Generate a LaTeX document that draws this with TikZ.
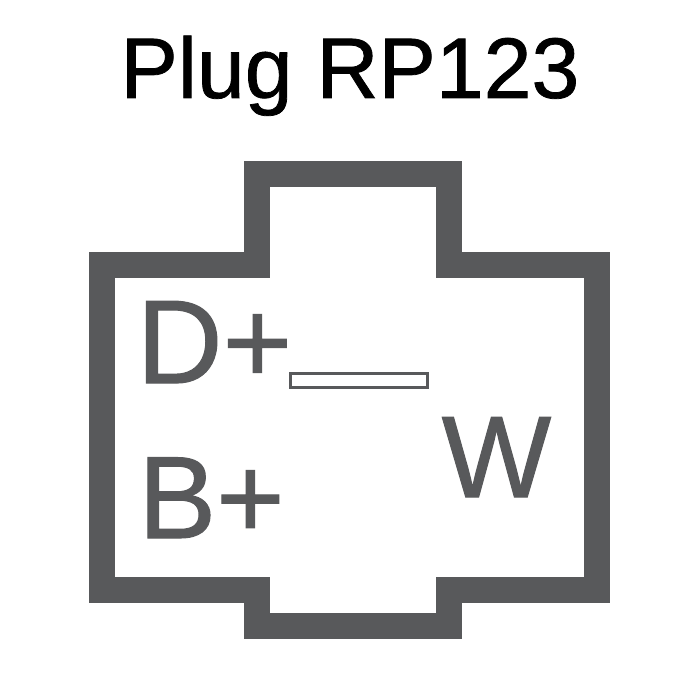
\documentclass[tikz,border=0pt]{standalone}
\usepackage{fontspec}
\setmainfont[FakeBold=0.9]{Liberation Sans}
\definecolor{plug}{HTML}{58595B}
\tikzset{lbl/.style={inner sep=0pt,text=plug}}
\begin{document}
\begin{tikzpicture}[x=1pt,y=-1pt]
\useasboundingbox (0,0) rectangle (700,700);
\node[inner sep=0pt,text=black,font=\fontsize{86pt}{86pt}\selectfont,anchor=base] (title) at (350,98) {Plug RP123};
\draw[plug,line width=26pt,miter limit=10] (102,265) -- (257,265) -- (257,174) -- (449,174) -- (449,265) -- (597,265) -- (597,590) -- (449,590) -- (449,626) -- (257,626) -- (257,590) -- (102,590) -- cycle;
\node[lbl,font=\fontsize{119pt}{119pt}\selectfont,anchor=base west] (d) at (136.5,383) {D+};
\node[lbl,font=\fontsize{117pt}{117pt}\selectfont,anchor=base west] (b) at (138,538) {B+};
\node[lbl,font=\fontsize{116pt}{116pt}\selectfont,anchor=base west] (w) at (441.5,497) {W};
\node[draw=plug,line width=3pt,fill=white,minimum width=137pt,minimum height=14pt,inner sep=0pt,anchor=center] (slot) at (359,380.5) {};
\end{tikzpicture}
\end{document}
